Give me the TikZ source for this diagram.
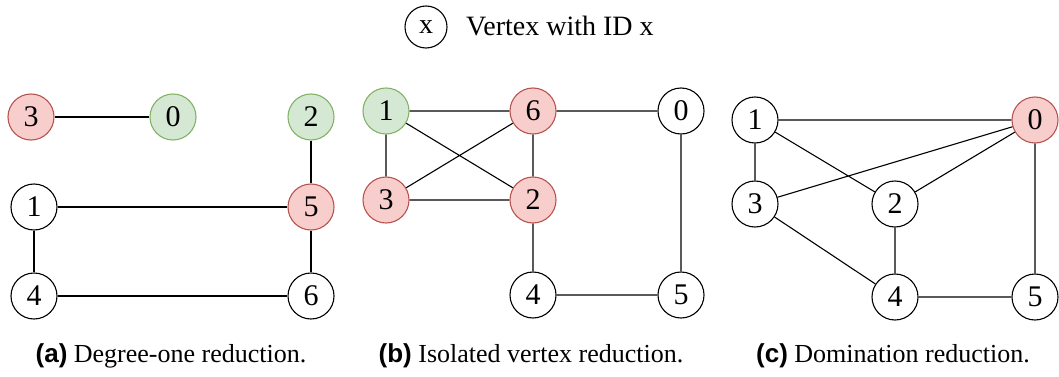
\documentclass[tikz,border=0pt]{standalone}
\usepackage{fontspec}
\setmainfont{Liberation Serif}
\newfontfamily\lblfont{Liberation Sans}
\definecolor{redfill}{HTML}{F8CECC}
\definecolor{redline}{HTML}{B85450}
\definecolor{greenfill}{HTML}{D5E8D4}
\definecolor{greenline}{HTML}{82B366}
\tikzset{
  vtx/.style={circle, draw=black, fill=white, line width=1.1pt, minimum size=46pt, inner sep=0pt,
    font=\fontsize{30}{30}\selectfont},
  rv/.style={vtx, draw=redline, fill=redfill},
  gv/.style={vtx, draw=greenline, fill=greenfill},
  edge/.style={draw=black, line width=1.1pt},
  capt/.style={anchor=base, inner sep=0pt, font=\fontsize{26}{26}\selectfont},
}
\newcommand{\sublbl}[1]{{\lblfont\bfseries #1}}
\begin{document}
\begin{tikzpicture}[x=1pt,y=-1pt]
\useasboundingbox (0,0) rectangle (1059,377);
% legend
\node[vtx, minimum size=42pt, font=\fontsize{28}{28}\selectfont] (lg) at (426,27) {x};
\node[anchor=base west, inner sep=0pt, font=\fontsize{28}{28}\selectfont] (lgt) at (466,36) {Vertex with ID x};
% panel a
\node[rv] (a3) at (31,117) {3};
\node[gv] (a0) at (173,117) {0};
\node[gv] (a2) at (311,117) {2};
\node[vtx] (a1) at (34,207) {1};
\node[rv] (a5) at (311,207) {5};
\node[vtx] (a4) at (34,296) {4};
\node[vtx] (a6) at (311,296) {6};
\path[edge] (a3) -- (a0) (a2) -- (a5) (a1) -- (a5) (a1) -- (a4) (a5) -- (a6) (a4) -- (a6);
% panel b
\node[gv] (b1) at (386,111) {1};
\node[rv] (b6) at (533,111) {6};
\node[vtx] (b0) at (681,111) {0};
\node[rv] (b3) at (386,200) {3};
\node[rv] (b2) at (533,200) {2};
\node[vtx] (b4) at (533,295) {4};
\node[vtx] (b5) at (681,295) {5};
\path[edge] (b1) -- (b6) (b6) -- (b0) (b1) -- (b3) (b1) -- (b2) (b6) -- (b3) (b6) -- (b2)
  (b3) -- (b2) (b2) -- (b4) (b0) -- (b5) (b4) -- (b5);
% panel c
\node[vtx] (c1) at (755,120) {1};
\node[rv] (c0) at (1035,120) {0};
\node[vtx] (c3) at (755,204) {3};
\node[vtx] (c2) at (895,204) {2};
\node[vtx] (c4) at (895,297) {4};
\node[vtx] (c5) at (1035,297) {5};
\path[edge] (c1) -- (c0) (c1) -- (c3) (c1) -- (c2) (c3) -- (c0) (c2) -- (c0) (c0) -- (c5)
  (c3) -- (c4) (c2) -- (c4) (c4) -- (c5);
% captions
\node[capt] (capa) at (171,362) {\sublbl{(a)} Degree-one reduction.};
\node[capt] (capb) at (531,362) {\sublbl{(b)} Isolated vertex reduction.};
\node[capt] (capc) at (893,362) {\sublbl{(c)} Domination reduction.};
\end{tikzpicture}
\end{document}
